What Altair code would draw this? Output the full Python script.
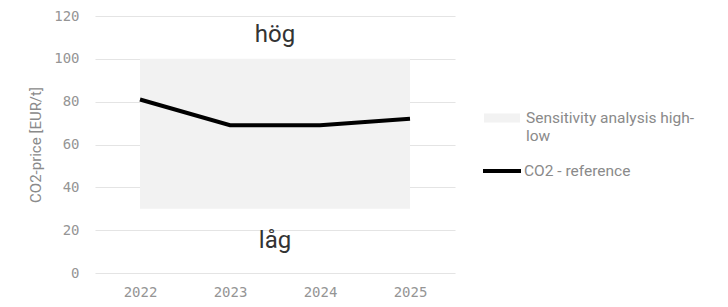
import altair as alt
import pandas as pd

years = [2022, 2023, 2024, 2025]
co2_ref = [81, 69, 69, 72]
sens_high = [100, 100, 100, 100]
sens_low = [30, 30, 30, 30]
ann_text = ["hög", "låg"]
ann_year = [2023.5, 2023.5]
ann_value = [111, 15]

df = pd.DataFrame({"year": years, "ref": co2_ref, "high": sens_high, "low": sens_low})
ann = pd.DataFrame({"year": ann_year, "value": ann_value, "text": ann_text})

AREA_NAME = "Sensitivity analysis high-low"
LINE_NAME = "CO2 - reference"

xscale = alt.Scale(domain=[2021.5, 2025.5], nice=False, zero=False)
yscale = alt.Scale(domain=[0, 120], nice=False)

xaxis = alt.Axis(values=years, format="d", grid=False, domain=False, ticks=False,
                 labelFont="DejaVu Sans Mono", labelFontSize=14, labelColor="#959595",
                 labelPadding=12, title=None)
yaxis = alt.Axis(values=[0, 20, 40, 60, 80, 100, 120], grid=True, gridColor="#e4e4e4",
                 gridWidth=1.2, domain=False, ticks=False,
                 labelFont="DejaVu Sans Mono", labelFontSize=14, labelColor="#959595",
                 labelPadding=16, title="CO2-price [EUR/t]", titleFont="Roboto",
                 titleFontSize=15, titleFontWeight="normal", titleColor="#8a8a8a",
                 titlePadding=10)

area = alt.Chart(df).mark_area(opacity=1).encode(
    x=alt.X("year:Q", scale=xscale, axis=xaxis),
    y=alt.Y("high:Q", scale=yscale, axis=yaxis),
    y2="low:Q",
    fill=alt.Fill("n:N", scale=alt.Scale(domain=[AREA_NAME], range=["#f2f2f2"]),
                  legend=alt.Legend(title=None, orient="none", legendX=389, legendY=84,
                                    symbolType="M-1,-0.25H1V0.25H-1Z", symbolSize=1296,
                                    symbolStrokeWidth=0, labelFont="Roboto", labelFontSize=15.5,
                                    labelColor="#8a8a8a", labelOffset=6, labelLimit=300,
                                    labelExpr="datum.label == 'Sensitivity analysis high-low' ? ['Sensitivity analysis high-', 'low'] : datum.label")),
).transform_calculate(n=f"'{AREA_NAME}'")

line = alt.Chart(df).mark_line(strokeWidth=4, strokeCap="butt").encode(
    x=alt.X("year:Q", scale=xscale),
    y=alt.Y("ref:Q", scale=yscale),
    stroke=alt.Stroke("n:N", scale=alt.Scale(domain=[LINE_NAME], range=["#000000"]),
                      legend=alt.Legend(title=None, orient="none", legendX=386, legendY=134,
                                        symbolType="stroke", symbolSize=1444, symbolStrokeWidth=4,
                                        labelFont="Roboto", labelFontSize=15.5,
                                        labelColor="#8a8a8a", labelOffset=1, labelLimit=300)),
).transform_calculate(n=f"'{LINE_NAME}'")

text = alt.Chart(ann).mark_text(font="Roboto", fontSize=24, color="#333333").encode(
    x=alt.X("year:Q", scale=xscale),
    y=alt.Y("value:Q", scale=yscale),
    text="text:N",
)

chart = alt.layer(area, line, text).resolve_scale(fill="independent", stroke="independent").properties(
    width=360, height=257,
    autosize=alt.AutoSizeParams(type="none"),
    padding={"left": 87, "top": 8, "right": 265, "bottom": 26},
).configure_view(stroke=None)

chart.save("out.html", embed_options={"renderer": "svg", "actions": False})
